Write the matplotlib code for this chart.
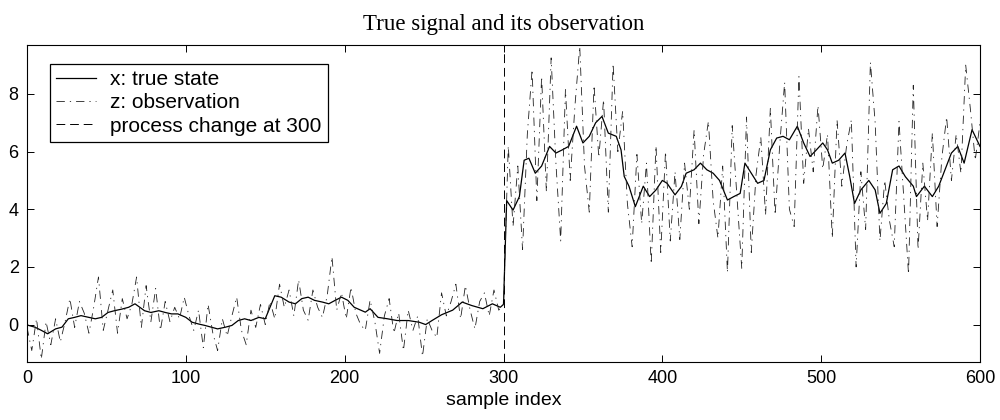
import numpy as np
import matplotlib
matplotlib.use("Agg")
import matplotlib.pyplot as plt

# true state x
x_idx = [0, 1, 5, 9, 13, 18, 22, 26, 30, 34, 39, 43, 47, 51, 55, 60, 64, 68, 71, 74, 78, 83, 87, 91, 95, 100,
         104, 108, 112, 116, 120, 125, 129, 133, 137, 141, 146, 150, 153, 156, 160, 165, 169, 173, 177, 181,
         186, 190, 194, 198, 202,
         206, 213, 216, 221, 227, 233, 240, 247, 251, 255, 261, 268, 274, 280, 287, 293, 298, 300,
         302, 306, 310, 313, 316, 320, 324, 329, 333, 337, 341, 346, 350, 354, 358, 362, 366, 371, 374, 376,
         379, 383, 388, 392, 396, 400,
         403, 408, 412, 415, 420, 424, 428, 432, 436, 441, 445, 449, 452, 456, 460, 464, 468, 472, 476, 480,
         485, 489, 493, 497,
         501, 504, 507, 511, 515, 518, 521, 525, 530, 534, 537, 541, 545, 549, 553, 558, 560, 565, 570, 574,
         578, 582, 586, 590, 595, 600]
x_val = [0.0, -0.03, -0.09, -0.2, -0.32, -0.15, -0.09, 0.2, 0.25, 0.31, 0.25, 0.2, 0.25, 0.42, 0.48, 0.54, 0.6,
         0.72, 0.6, 0.48, 0.42, 0.48, 0.42, 0.37, 0.37, 0.25,
         0.08, 0.02, -0.03, -0.09, -0.15, -0.09, -0.03, 0.14, 0.2, 0.14, 0.25, 0.2, 0.6, 1.0, 0.95, 0.78, 0.72,
         0.9, 0.95, 0.84, 0.78, 0.72, 0.84, 0.95, 0.84,
         0.6, 0.43, 0.55, 0.25, 0.2, 0.14, 0.14, 0.08, 0.0, 0.14, 0.34, 0.5, 0.78, 0.66, 0.55, 0.72, 0.6, 0.7,
         4.3, 3.97, 4.44, 5.7, 5.77, 5.25, 5.5, 6.18, 5.95, 6.06, 6.18, 6.88, 6.3, 6.53, 7.0, 7.22, 6.64, 6.53,
         6.06, 5.14, 4.8, 4.09, 4.8, 4.44, 4.67, 5.0,
         4.9, 4.5, 4.79, 5.25, 5.37, 5.6, 5.37, 5.25, 5.0, 4.32, 4.44, 4.55, 5.6, 5.25, 4.9, 5.0, 6.06, 6.47,
         6.53, 6.41, 6.88, 6.3, 5.83, 6.06,
         6.3, 6.06, 5.6, 5.7, 5.95, 5.13, 4.2, 4.67, 5.0, 4.67, 3.86, 4.2, 5.37, 5.5, 5.13, 4.8, 4.44, 4.8,
         4.44, 4.8, 5.37, 5.95, 6.18, 5.6, 6.76, 6.18]

# observation z, every 3rd sample
z_idx = list(range(0, 601, 3))
z_val = [-0.1, -0.9, 0.2, -1.2, 0.1, -0.7, 0.2, -0.6, 0.1, 0.9,
         -0.1, 0.8, 0.4, -0.3, 0.6, 1.65, -0.2, 0.5, 1.2, -0.3,
         0.9, 0.2, 0.7, 1.65, -0.1, 1.35, 0.1, 1.25, -0.2, 0.8,
         0.1, 0.6, 0.2, 0.95,
         0.3, -0.2, 0.5, -0.8, 0.7, -0.3, -0.9, 0.2, -0.4, 0.3,
         0.95, -0.2, -0.7, 0.5, -0.1, 0.7, 0.0, 0.8, 0.2, 1.4,
         0.6, 1.2, 0.3, 1.55, 0.5, 0.15, 1.2, 0.6, 0.25, 1.0,
         2.35, 0.5, 1.1,
         0.2, 1.3, 0.4, 0.0, -0.2, 0.85, 0.1, -1.0, 0.3, 0.9,
         -0.3, 0.4, -0.9, 0.5, -0.2, 0.3, -1.1, 0.2, -0.2, -0.45,
         1.1, 0.3, 0.8, 1.4, 0.2, 1.35, 0.5, -0.15, 0.8, 1.1,
         0.3, 1.2, 0.5, 0.7,
         6.2, 3.4, 5.5, 2.6, 6.6, 8.85, 4.3, 8.6, 4.6, 9.25,
         5.6, 2.9, 8.15, 5.0, 7.6, 9.65, 5.5, 3.9, 8.3, 5.8,
         7.8, 3.9, 9.05, 6.0, 7.4, 4.2, 2.7, 5.9, 3.5, 5.6,
         2.1, 6.2, 2.5,
         6.0, 2.9, 5.3, 2.95, 5.6, 4.0, 6.75, 3.5, 5.9, 7.05,
         4.3, 3.0, 5.5, 1.8, 6.9, 4.4, 1.95, 7.2, 2.5, 5.2,
         6.5, 3.8, 7.5, 3.8, 6.3, 8.4, 4.0, 3.4, 8.6, 4.9,
         6.8, 5.3, 7.6,
         5.4, 6.6, 3.0, 7.1, 4.8, 6.2, 7.1, 2.0, 5.3, 3.3,
         9.1, 7.0, 2.9, 5.0, 3.6, 2.7, 7.05, 4.4, 1.75, 8.3,
         2.6, 5.6, 3.6, 6.65, 3.4, 5.8, 7.2, 5.0, 6.6, 5.25,
         9.0, 7.45, 5.7, 7.0]

change_at = 300
labels = ["x: true state", "z: observation", "process change at 300"]

plt.rcParams["font.family"] = ["Liberation Sans", "DejaVu Sans"]

fig = plt.figure(figsize=(10, 4.2), dpi=100)
ax = fig.add_axes([0.027, 0.138, 0.953, 0.755])

ax.plot(x_idx, x_val, color="black", lw=0.9, label=labels[0])
ax.plot(z_idx, z_val, color="#222222", lw=0.6, linestyle=(0, (10, 6, 1.5, 6)), label=labels[1])
ax.axvline(change_at, color="black", lw=0.7, linestyle=(0, (9, 5)), label=labels[2])

ax.set_xlim(0, 600)
ax.set_ylim(-1.3, 9.7)
ax.set_xticks([0, 100, 200, 300, 400, 500, 600])
ax.set_yticks([0, 2, 4, 6, 8])
ax.tick_params(direction="in", top=True, right=True, length=5, width=0.7, labelsize=13, pad=6)
for s in ax.spines.values():
    s.set_linewidth(0.8)

ax.set_xlabel("sample index", fontsize=14, labelpad=3)
ax.set_title("True signal and its observation", fontsize=16.5,
             family=["Liberation Serif", "DejaVu Serif"], pad=11)

leg = ax.legend(loc="upper left", bbox_to_anchor=(0.024, 0.94), borderaxespad=0,
                fontsize=15, fancybox=False, framealpha=1, edgecolor="black",
                handlelength=1.9, handletextpad=0.7, labelspacing=0.2, borderpad=0.3)
leg.get_frame().set_linewidth(0.9)

fig.savefig("out.png", dpi=100)
